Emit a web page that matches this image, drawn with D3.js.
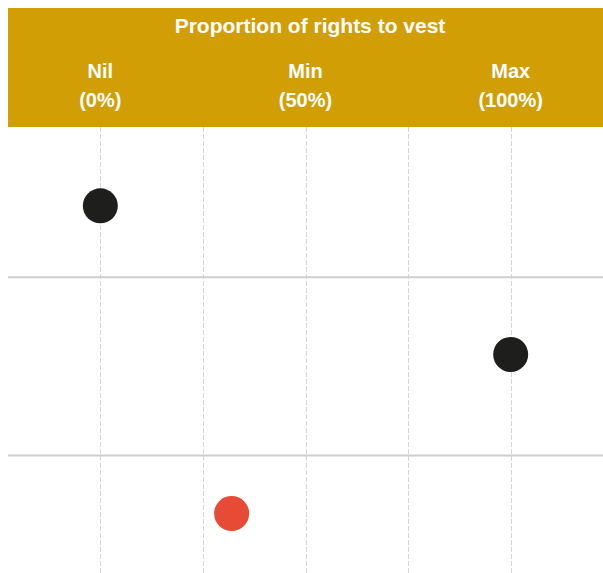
<!DOCTYPE html>
<html>
<head>
<meta charset="utf-8">
<script src="https://cdn.jsdelivr.net/npm/d3@7"></script>
<style>
  html, body { margin: 0; padding: 0; background: #fff; }
  svg { display: block; font-family: "Liberation Sans", Arial, sans-serif; }
</style>
</head>
<body>
<svg id="chart" width="603" height="573"></svg>
<script>
const title = "Proportion of rights to vest";
const levels = ["Nil", "Min", "Max"];
const levelPcts = ["(0%)", "(50%)", "(100%)"];
const levelValues = [0, 50, 100];
const gridValues = [0, 25, 50, 75, 100];

// each row holds one marker; rows are measured in row units down the chart
const rowSeparators = [1.01, 2.21];
const pointRows = [0.53, 1.53, 2.6];
const pointValues = [0, 100, 32];
const pointHighlight = [false, false, true];

const width = 603;
const height = 573;
const headerTop = 8;
const headerBottom = 127;
const left = 8;

const svg = d3.select("#chart");

const x = d3.scaleLinear().domain([-22.5, 122.5]).range([left, width]);
const y = d3.scaleLinear().domain([0, 3]).range([headerBottom, height]);

// header band
svg.append("rect")
  .attr("x", left)
  .attr("y", headerTop)
  .attr("width", width - left)
  .attr("height", headerBottom - headerTop)
  .attr("fill", "#d29e05");

svg.append("text")
  .attr("x", 310)
  .attr("y", 33)
  .attr("text-anchor", "middle")
  .attr("fill", "#fff")
  .attr("font-size", 21)
  .attr("font-weight", 700)
  .text(title);

const heads = svg.append("g")
  .selectAll("g")
  .data(levelValues)
  .join("g");

heads.append("text")
  .attr("x", d => x(d))
  .attr("y", 78)
  .attr("text-anchor", "middle")
  .attr("fill", "#fff")
  .attr("font-size", 20)
  .attr("font-weight", 700)
  .text((d, i) => levels[i]);

heads.append("text")
  .attr("x", d => x(d))
  .attr("y", 107)
  .attr("text-anchor", "middle")
  .attr("fill", "#fff")
  .attr("font-size", 20)
  .attr("font-weight", 700)
  .text((d, i) => levelPcts[i]);

// dashed vertical grid
svg.append("g")
  .selectAll("line")
  .data(gridValues)
  .join("line")
  .attr("x1", d => Math.round(x(d)) + 0.5)
  .attr("x2", d => Math.round(x(d)) + 0.5)
  .attr("y1", headerBottom)
  .attr("y2", height)
  .attr("stroke", "#d6d6d6")
  .attr("stroke-width", 1)
  .attr("stroke-dasharray", "5,2");

// row separators
svg.append("g")
  .selectAll("line")
  .data(rowSeparators)
  .join("line")
  .attr("x1", left)
  .attr("x2", width)
  .attr("y1", d => y(d))
  .attr("y2", d => y(d))
  .attr("stroke", "#cfcfcf")
  .attr("stroke-width", 2);

// markers
svg.append("g")
  .selectAll("circle")
  .data(pointValues)
  .join("circle")
  .attr("cx", d => x(d))
  .attr("cy", (d, i) => y(pointRows[i]))
  .attr("r", 17.5)
  .attr("fill", (d, i) => pointHighlight[i] ? "#e84b35" : "#1e1e1c");
</script>
</body>
</html>
